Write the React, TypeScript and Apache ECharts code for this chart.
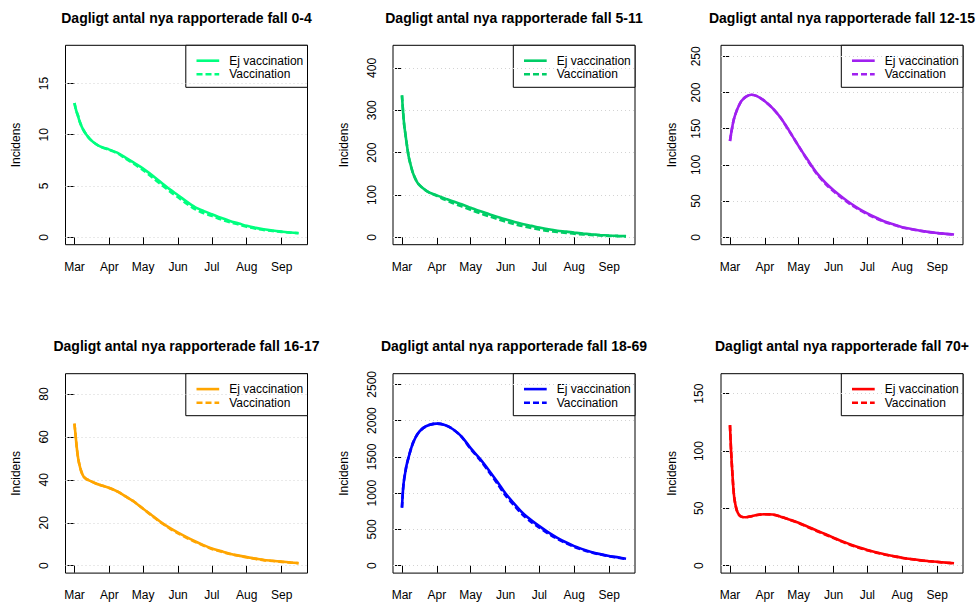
import React, { useEffect, useRef } from 'react';
import * as echarts from 'echarts';

// Days since 1 March
const DAYS = [0, 1, 2, 3, 4, 6, 8, 10, 14, 19, 24, 31, 38, 45, 53, 61, 69, 77, 85, 92, 100, 107, 115, 122, 130, 138, 146, 153, 161, 168, 176, 184, 192, 199];
const MONTH_TICKS = [0, 31, 61, 92, 122, 153, 184];
const MONTH_LABELS = ['Mar', 'Apr', 'May', 'Jun', 'Jul', 'Aug', 'Sep'];

const TITLES = [
  'Dagligt antal nya rapporterade fall 0-4',
  'Dagligt antal nya rapporterade fall 5-11',
  'Dagligt antal nya rapporterade fall 12-15',
  'Dagligt antal nya rapporterade fall 16-17',
  'Dagligt antal nya rapporterade fall 18-69',
  'Dagligt antal nya rapporterade fall 70+',
];
const LEGEND_LABELS = ['Ej vaccination', 'Vaccination'];
const Y_NAME = 'Incidens';
const COLORS = ['#00FF7F', '#00CD66', '#A020F0', '#FFA500', '#0000FF', '#FF0000'];

const EJ_0_4 = [13.1, 12.6, 12.2, 11.9, 11.5, 10.9, 10.45, 10.1, 9.55, 9.1, 8.8, 8.55, 8.25, 7.8, 7.25, 6.7, 6.05, 5.35, 4.65, 4.1, 3.45, 2.95, 2.55, 2.25, 1.9, 1.6, 1.35, 1.12, 0.92, 0.78, 0.66, 0.56, 0.47, 0.42];
const VAC_0_4 = [13.1, 12.6, 12.2, 11.9, 11.5, 10.9, 10.45, 10.1, 9.55, 9.1, 8.8, 8.52, 8.2, 7.7, 7.15, 6.55, 5.85, 5.15, 4.45, 3.9, 3.25, 2.75, 2.35, 2.1, 1.75, 1.48, 1.25, 1.03, 0.84, 0.72, 0.62, 0.53, 0.45, 0.4];
const EJ_5_11 = [335, 296, 265, 245, 225, 190, 168, 150, 128, 115, 106, 99, 92, 85, 78, 70, 62, 55, 48, 42.5, 36, 31.5, 27, 23, 19, 15.7, 13.4, 11, 8.7, 7.1, 5.5, 4.3, 3.3, 2.8];
const VAC_5_11 = [335, 296, 265, 245, 225, 190, 168, 150, 128, 115, 106, 98, 89, 81, 73, 65, 57, 50, 43, 37, 31, 26.5, 22, 18.5, 15, 12.5, 10.5, 8.5, 6.8, 5.5, 4.3, 3.4, 2.7, 2.3];
const EJ_12_15 = [133, 143, 152, 160, 166, 175, 182, 188, 194, 197, 195, 188, 178, 165, 146, 126, 107, 89, 75, 65, 55, 47, 39, 33, 27, 21.5, 17.5, 14, 11.5, 9.5, 7.5, 6, 4.8, 3.8];
const VAC_12_15 = [133, 143, 152, 160, 166, 175, 182, 188, 194, 197, 195, 188, 178, 165, 146, 126, 106, 88, 73.5, 63.5, 53.5, 45.5, 37.8, 32, 26, 20.8, 17, 13.6, 11.2, 9.2, 7.3, 5.8, 4.7, 3.7];
const EJ_16_17 = [66.2, 60.7, 55.3, 51, 48, 44, 41.6, 40.6, 39.5, 38.3, 37.4, 36.2, 34.6, 32.4, 29.8, 26.5, 23.4, 20.2, 17.5, 15.4, 13.2, 11.4, 9.5, 8.0, 6.8, 5.6, 4.7, 4.0, 3.3, 2.7, 2.3, 1.9, 1.5, 1.2];
const VAC_16_17 = [66.2, 60.7, 55.3, 51, 48, 44, 41.6, 40.6, 39.5, 38.3, 37.4, 36.2, 34.6, 32.4, 29.8, 26.5, 23.2, 20, 17.2, 15.1, 12.9, 11.1, 9.3, 7.8, 6.6, 5.5, 4.6, 3.9, 3.2, 2.6, 2.2, 1.8, 1.45, 1.15];
const EJ_18_69 = [800, 1060, 1200, 1290, 1380, 1500, 1610, 1700, 1820, 1900, 1940, 1958, 1940, 1885, 1780, 1620, 1480, 1320, 1150, 995, 850, 730, 625, 545, 460, 385, 320, 270, 225, 190, 160, 135, 115, 97];
const VAC_18_69 = [800, 1060, 1200, 1290, 1380, 1500, 1610, 1700, 1820, 1900, 1940, 1958, 1940, 1885, 1775, 1610, 1465, 1300, 1125, 970, 825, 705, 600, 525, 443, 370, 308, 260, 216, 183, 154, 130, 111, 94];
const EJ_70 = [122.6, 100, 83, 68, 58, 48.5, 44.5, 42.8, 42.2, 43.2, 44.3, 44.9, 44.6, 42.8, 40.2, 37.4, 34.1, 30.7, 27.4, 24.5, 21.2, 18.5, 15.8, 13.7, 11.7, 9.8, 8.3, 7.0, 5.8, 4.9, 4.1, 3.4, 2.7, 2.1];
const VAC_70 = [122.6, 100, 83, 68, 58, 48.5, 44.5, 42.8, 42.2, 43.2, 44.3, 44.9, 44.6, 42.8, 40.2, 37.2, 33.8, 30.3, 27, 24.1, 20.8, 18.1, 15.5, 13.4, 11.4, 9.6, 8.1, 6.8, 5.7, 4.8, 4.0, 3.3, 2.6, 2.0];

const Y_TICKS_0_4 = [0, 5, 10, 15];
const Y_TICKS_5_11 = [0, 100, 200, 300, 400];
const Y_TICKS_12_15 = [0, 50, 100, 150, 200, 250];
const Y_TICKS_16_17 = [0, 20, 40, 60, 80];
const Y_TICKS_18_69 = [0, 500, 1000, 1500, 2000, 2500];
const Y_TICKS_70 = [0, 50, 100, 150];
const Y_LIM_TOP = [18, 436, 255, 86, 2545, 161];

const EJ = [EJ_0_4, EJ_5_11, EJ_12_15, EJ_16_17, EJ_18_69, EJ_70];
const VAC = [VAC_0_4, VAC_5_11, VAC_12_15, VAC_16_17, VAC_18_69, VAC_70];
const Y_TICKS = [Y_TICKS_0_4, Y_TICKS_5_11, Y_TICKS_12_15, Y_TICKS_16_17, Y_TICKS_18_69, Y_TICKS_70];

const FONT = '"Liberation Sans", Arial, Helvetica, sans-serif';
const COL_LEFT = [65.5, 393, 721];
const ROW_TOP = [45.3, 373.7];
const PW = 242;
const PH = 199.4;
const Y_LABEL_MARGIN = [16, 15, 19, 16, 15, 16];

export default function App() {
  const ref = useRef<HTMLDivElement>(null);
  useEffect(() => {
    const chart = echarts.init(ref.current!, null, { renderer: 'svg' });
    const grids: any[] = [];
    const xAxes: any[] = [];
    const yAxes: any[] = [];
    const series: any[] = [];
    const titles: any[] = [];
    const graphics: any[] = [];
    const xMin = DAYS[0] - 0.04 * (DAYS[DAYS.length - 1] - DAYS[0]);
    const xMax = DAYS[DAYS.length - 1] + 0.04 * (DAYS[DAYS.length - 1] - DAYS[0]);

    for (let i = 0; i < 6; i++) {
      const left = COL_LEFT[i % 3];
      const top = ROW_TOP[Math.floor(i / 3)];
      const color = COLORS[i];
      const yTop = Y_LIM_TOP[i];
      grids.push({ left, top, width: PW, height: PH, show: true, borderColor: '#000', borderWidth: 1, containLabel: false });
      xAxes.push({
        type: 'value', gridIndex: i, min: xMin, max: xMax,
        axisLine: { show: false },
        splitLine: { show: false },
        axisTick: { show: true, customValues: MONTH_TICKS, length: 7, lineStyle: { color: '#000', width: 1 } },
        axisLabel: {
          customValues: MONTH_TICKS, margin: 16, fontSize: 12, color: '#000', fontFamily: FONT,
          formatter: (v: number) => { const k = MONTH_TICKS.indexOf(Math.round(v)); return k >= 0 ? MONTH_LABELS[k] : ''; },
        },
      });
      yAxes.push({
        type: 'value', gridIndex: i, min: -0.04 * yTop, max: 1.04 * yTop,
        axisLine: { show: false },
        splitLine: { show: false },
        axisTick: { show: true, customValues: Y_TICKS[i], length: 7, lineStyle: { color: '#000', width: 1 } },
        axisLabel: {
          customValues: Y_TICKS[i], rotate: 90, margin: Y_LABEL_MARGIN[i], fontSize: 12, color: '#000', fontFamily: FONT,
          formatter: (v: number) => String(v),
        },
        name: Y_NAME, nameLocation: 'middle', nameGap: 43.5,
        nameTextStyle: { fontSize: 12, color: '#000', fontFamily: FONT },
      });
      series.push({
        type: 'line', name: LEGEND_LABELS[0], xAxisIndex: i, yAxisIndex: i,
        data: DAYS.map((d, k) => [d, EJ[i][k]]),
        symbol: 'none', smooth: 0.3, silent: true, z: 2,
        lineStyle: { color, width: 2.6, type: 'solid' },
        markLine: {
          silent: true, z: 1, symbol: ['none', 'none'], label: { show: false },
          lineStyle: { color: '#D3D3D3', width: 1, type: [1, 3] },
          emphasis: { disabled: true },
          data: Y_TICKS[i].map((v) => ({ yAxis: v })),
        },
      });
      series.push({
        type: 'line', name: LEGEND_LABELS[1], xAxisIndex: i, yAxisIndex: i,
        data: DAYS.map((d, k) => [d, VAC[i][k]]),
        symbol: 'none', smooth: 0.3, silent: true, z: 3,
        lineStyle: { color, width: 2.6, type: [6, 3] },
      });
      titles.push({
        text: TITLES[i], left: left + PW / 2, top: top - 27.5, padding: 0,
        textAlign: 'center', textVerticalAlign: 'middle',
        textStyle: { fontSize: 14, fontWeight: 'bold', color: '#000', fontFamily: FONT },
      });
      const lw = 121.7;
      graphics.push({
        type: 'group', x: left + PW - lw, y: top, z: 100, silent: true,
        children: [
          { type: 'rect', shape: { x: 0, y: 0, width: lw, height: 42 }, style: { fill: '#fff', stroke: '#000', lineWidth: 1 } },
          { type: 'line', shape: { x1: 10.7, y1: 15.4, x2: 33.4, y2: 15.4 }, style: { stroke: color, lineWidth: 2.6 } },
          { type: 'line', shape: { x1: 10.7, y1: 29, x2: 33.4, y2: 29 }, style: { stroke: color, lineWidth: 2.6, lineDash: [6, 3] } },
          { type: 'text', x: 43.4, y: 15.4, style: { text: LEGEND_LABELS[0], fontSize: 12, fontFamily: FONT, fill: '#000', verticalAlign: 'middle', align: 'left' } },
          { type: 'text', x: 43.4, y: 29, style: { text: LEGEND_LABELS[1], fontSize: 12, fontFamily: FONT, fill: '#000', verticalAlign: 'middle', align: 'left' } },
        ],
      });
    }

    chart.setOption({
      animation: false,
      backgroundColor: '#fff',
      title: titles,
      grid: grids,
      xAxis: xAxes,
      yAxis: yAxes,
      series,
      graphic: graphics,
    });
    return () => chart.dispose();
  }, []);
  return <div ref={ref} style={{ position: 'absolute', left: 0, top: 0, width: 977, height: 603 }} />;
}
